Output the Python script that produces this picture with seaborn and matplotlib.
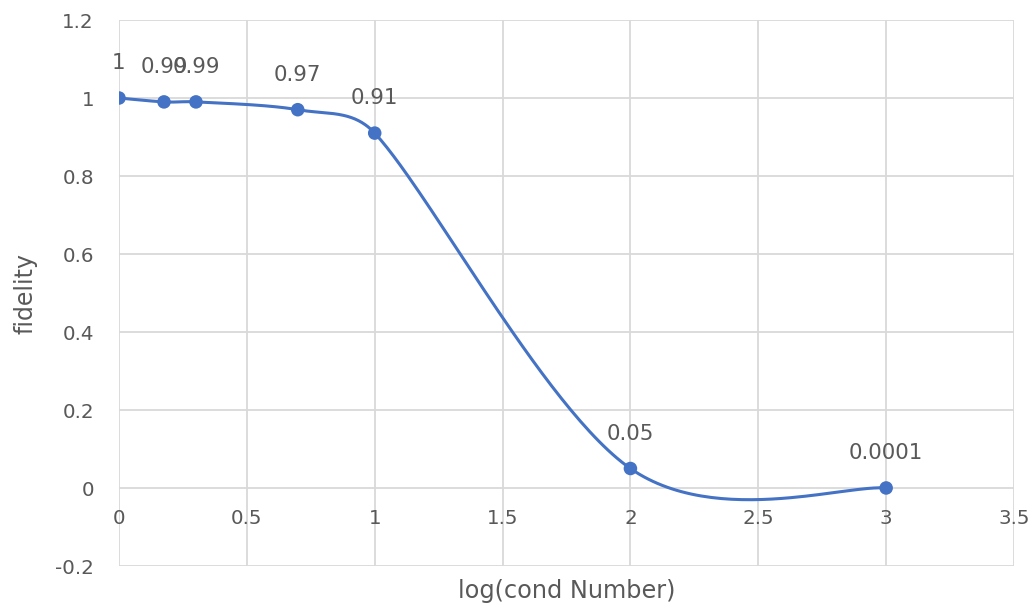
import numpy as np
import pandas as pd
import matplotlib
matplotlib.use("Agg")
import matplotlib.pyplot as plt
import seaborn as sns

# Data: fidelity against log10 of the condition number
log_cond = [0.0, 0.176, 0.301, 0.699, 1.0, 2.0, 3.0]
fidelity = [1.0, 0.99, 0.99, 0.97, 0.91, 0.05, 0.0001]
point_labels = ["1", "0.99", "0.99", "0.97", "0.91", "0.05", "0.0001"]

x_ticks = [0, 0.5, 1, 1.5, 2, 2.5, 3, 3.5]
y_ticks = [-0.2, 0, 0.2, 0.4, 0.6, 0.8, 1.0, 1.2]
x_tick_labels = ["0", "0.5", "1", "1.5", "2", "2.5", "3", "3.5"]
y_tick_labels = ["-0.2", "0", "0.2", "0.4", "0.6", "0.8", "1", "1.2"]

LINE = "#4472C4"
TEXT = "#595959"
GRID = "#D9D9D9"

sns.set_theme(style="white")
plt.rcParams["font.family"] = ["DejaVu Sans"]

fig = plt.figure(figsize=(10.33, 6.08), dpi=100)
ax = fig.add_axes([119 / 1033, 1 - 566 / 608, 895 / 1033, 546 / 608])
ax.set_xlim(0, 3.5)
ax.set_ylim(-0.2, 1.2)


def smooth_curve(ax, xs, ys, n=60, limit=0.4):
    """Bezier smoothing of a polyline in screen space (spreadsheet-style)."""
    pts = ax.transData.transform(np.column_stack([xs, ys]))
    m = len(pts)
    out = []
    for i in range(m - 1):
        p0 = pts[max(i - 1, 0)]
        p1 = pts[i]
        p2 = pts[i + 1]
        p3 = pts[min(i + 2, m - 1)]
        seg = np.linalg.norm(p2 - p1)
        t1 = (p2 - p0) / 6.0
        t2 = (p3 - p1) / 6.0
        for t in (t1, t2):
            L = np.linalg.norm(t)
            if L > seg * limit:
                t *= (seg * limit) / L
        c1 = p1 + t1
        c2 = p2 - t2
        tt = np.linspace(0, 1, n)[:, None]
        b = ((1 - tt) ** 3) * p1 + 3 * ((1 - tt) ** 2) * tt * c1 \
            + 3 * (1 - tt) * tt ** 2 * c2 + tt ** 3 * p2
        out.append(b if i == 0 else b[1:])
    curve = np.vstack(out)
    return ax.transData.inverted().transform(curve)


curve = smooth_curve(ax, np.array(log_cond), np.array(fidelity))
curve_df = pd.DataFrame({"x": curve[:, 0], "y": curve[:, 1]})
points_df = pd.DataFrame({"log_cond": log_cond, "fidelity": fidelity})

sns.lineplot(data=curve_df, x="x", y="y", sort=False, color=LINE,
             linewidth=2.2, ax=ax, zorder=3)
sns.scatterplot(data=points_df, x="log_cond", y="fidelity", color=LINE,
                s=95, edgecolor="none", ax=ax, zorder=4)

for xv, yv, lab in zip(log_cond, fidelity, point_labels):
    ax.annotate(lab, (xv, yv), xytext=(0, 25), textcoords="offset points",
                ha="center", va="center", fontsize=15.4, color=TEXT, zorder=5)

ax.set_xticks(x_ticks)
ax.set_xticklabels(x_tick_labels)
ax.set_yticks(y_ticks)
ax.set_yticklabels(y_tick_labels)
ax.grid(True, color=GRID, linewidth=1.3)
ax.set_axisbelow(True)

for side in ["top", "right", "left"]:
    ax.spines[side].set_visible(False)
ax.spines["bottom"].set_position(("data", 0))
ax.spines["bottom"].set_visible(False)

ax.tick_params(axis="x", length=0, pad=15, labelsize=14.3, labelcolor=TEXT)
ax.tick_params(axis="y", length=0, pad=18, labelsize=14.3, labelcolor=TEXT)

ax.set_xlabel("log(cond Number)", fontsize=17.3, color=TEXT)
ax.set_ylabel("fidelity", fontsize=17, color=TEXT)
ax.xaxis.set_label_coords(0.5, -25 / 546)
ax.xaxis.label.set_va("center")
ax.yaxis.set_label_coords(-94 / 895, 0.5)
ax.yaxis.label.set_va("center")
ax.yaxis.label.set_ha("center")

fig.savefig("out.png", dpi=100, facecolor="white")
